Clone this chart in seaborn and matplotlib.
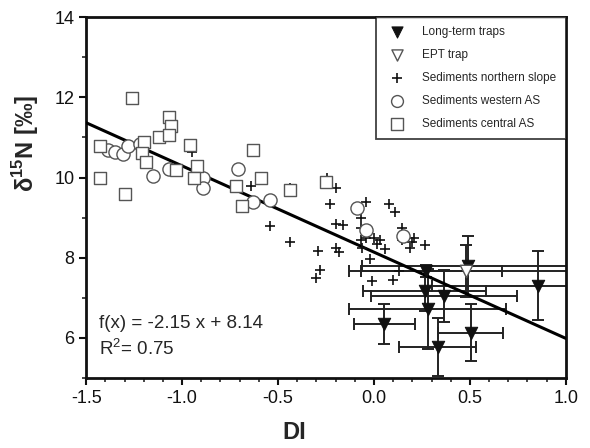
import numpy as np
import pandas as pd
import matplotlib
matplotlib.use("Agg")
import matplotlib.pyplot as plt
from matplotlib.ticker import MultipleLocator
import seaborn as sns

# Sediments central AS (open squares)
central_x = [-1.43, -1.43, -1.26, -1.30, -1.20, -1.21, -1.19, -1.12, -1.07, -1.06, -1.07,
             -1.03, -0.96, -0.92, -0.94, -0.72, -0.69, -0.63, -0.59, -0.44, -0.25]
central_y = [10.78, 9.98, 11.98, 9.60, 10.88, 10.60, 10.38, 11.00, 11.50, 11.28, 11.07,
             10.18, 10.80, 10.28, 9.98, 9.80, 9.28, 10.68, 9.98, 9.68, 9.88]

# Sediments western AS (open circles)
western_x = [-1.385, -1.35, -1.31, -1.28, -1.22, -1.15, -1.07, -0.89, -0.89, -0.71,
             -0.63, -0.54, -0.09, -0.04, 0.15]
western_y = [10.68, 10.63, 10.58, 10.78, 10.83, 10.03, 10.22, 9.98, 9.75, 10.22,
             9.38, 9.45, 9.25, 8.70, 8.53]

# Sediments northern slope (crosses)
northern_x = [-0.95, -0.64, -0.44, -0.54, -0.44, -0.245, -0.20, -0.23, -0.20, -0.16,
              -0.29, -0.28, -0.30, -0.20, -0.18, -0.04, 0.08, 0.11, -0.07, -0.07,
              -0.07, -0.04, 0.00, 0.03, 0.015, 0.06, -0.06, -0.02, -0.01, 0.10,
              0.145, 0.19, 0.21, 0.20, 0.265, 0.145, 0.13]
northern_y = [10.63, 9.80, 9.75, 8.78, 8.40, 10.00, 9.75, 9.35, 8.85, 8.82,
              8.18, 7.70, 7.50, 8.25, 8.15, 9.38, 9.35, 9.13, 9.00, 8.73,
              8.45, 8.48, 8.48, 8.43, 8.35, 8.23, 8.25, 7.98, 7.43, 7.45,
              8.43, 8.25, 8.48, 8.40, 8.32, 8.75, 7.68]

# Long-term traps (filled triangles, with x/y errors)
traps_x = [0.055, 0.505, 0.333, 0.854, 0.27, 0.265, 0.28, 0.365, 0.49]
traps_y = [6.35, 6.13, 5.78, 7.30, 7.68, 7.17, 6.73, 7.05, 7.80]
traps_xerr = [0.16, 0.17, 0.20, 0.55, 0.40, 0.32, 0.41, 0.38, 0.55]
traps_yerr = [0.50, 0.71, 0.73, 0.86, 0.15, 0.50, 1.00, 0.65, 0.75]

# EPT trap (open triangle)
ept_x = [0.48]
ept_y = [7.68]
ept_xerr = [0.55]
ept_yerr = [0.65]

slope, intercept, r2 = -2.15, 8.14, 0.75

sns.set_theme(style="ticks")
plt.rcParams['font.family'] = ['Liberation Sans', 'DejaVu Sans']
plt.rcParams['mathtext.fontset'] = 'custom'
plt.rcParams['mathtext.rm'] = 'Liberation Sans'
plt.rcParams['mathtext.bf'] = 'Liberation Sans:bold'

fig = plt.figure(figsize=(5.9, 4.48), dpi=100)
ax = fig.add_axes([0.146, 0.156, 0.813, 0.806])

err_kw = dict(fmt='none', ecolor='#222222', elinewidth=1.4, capsize=4, capthick=1.4, zorder=2)
ax.errorbar(traps_x, traps_y, xerr=traps_xerr, yerr=traps_yerr, **err_kw)
ax.errorbar(ept_x, ept_y, xerr=ept_xerr, yerr=ept_yerr, **err_kw)

xs = np.array([-1.5, 1.0])
ax.plot(xs, slope * xs + intercept, color='black', lw=2.2, zorder=3)

sns.scatterplot(x=traps_x, y=traps_y, marker='v', s=80, color='#111111',
                edgecolor='#111111', ax=ax, zorder=4, label='Long-term traps')
sns.scatterplot(x=ept_x, y=ept_y, marker='v', s=80, facecolor='white',
                edgecolor='#555555', linewidth=1, ax=ax, zorder=4, label='EPT trap')
sns.scatterplot(x=northern_x, y=northern_y, marker='+', s=55, color='#111111',
                linewidth=1.2, ax=ax, zorder=4, label='Sediments northern slope')
sns.scatterplot(x=western_x, y=western_y, marker='o', s=90, facecolor='white',
                edgecolor='#555555', linewidth=1, ax=ax, zorder=4, label='Sediments western AS')
sns.scatterplot(x=central_x, y=central_y, marker='s', s=85, facecolor='white',
                edgecolor='#555555', linewidth=1, ax=ax, zorder=4, label='Sediments central AS')

ax.set_xlim(-1.5, 1.0)
ax.set_ylim(5, 14)
ax.xaxis.set_major_locator(MultipleLocator(0.5))
ax.xaxis.set_minor_locator(MultipleLocator(0.1))
ax.yaxis.set_major_locator(MultipleLocator(2))
ax.yaxis.set_minor_locator(MultipleLocator(1))
ax.set_xticklabels([f"{v:.1f}" for v in ax.get_xticks()])
ax.set_yticks([6, 8, 10, 12, 14])
ax.set_yticklabels(['6', '8', '10', '12', '14'])
ax.tick_params(which='major', direction='out', length=5, width=1.5, labelsize=13, colors='#111111')
ax.tick_params(which='minor', direction='out', length=3, width=1.2)
for sp in ax.spines.values():
    sp.set_linewidth(2)
    sp.set_color('#111111')

ax.set_xlabel('DI', fontsize=17, fontweight='bold')
ax.set_ylabel(r'δ$^{\mathbf{15}}$N [‰]', fontsize=17, fontweight='bold')
ax.xaxis.set_label_coords(0.433, -0.118)
ax.yaxis.set_label_coords(-0.095, 0.65)

ax.text(0.027, 0.15, f"f(x) = {slope} x + {intercept}", transform=ax.transAxes,
        fontsize=13.5, va='center')
ax.text(0.027, 0.082, f"R$^2$= {r2}", transform=ax.transAxes, fontsize=13.5, va='center')

leg = ax.legend(loc='upper right', fontsize=8.5, frameon=True, fancybox=False,
                borderaxespad=0, labelspacing=0.92, handletextpad=1.1,
                borderpad=0.8, markerscale=0.9)
leg.get_frame().set_edgecolor('#111111')
leg.get_frame().set_linewidth(1.3)

fig.savefig('out.png', dpi=100)
